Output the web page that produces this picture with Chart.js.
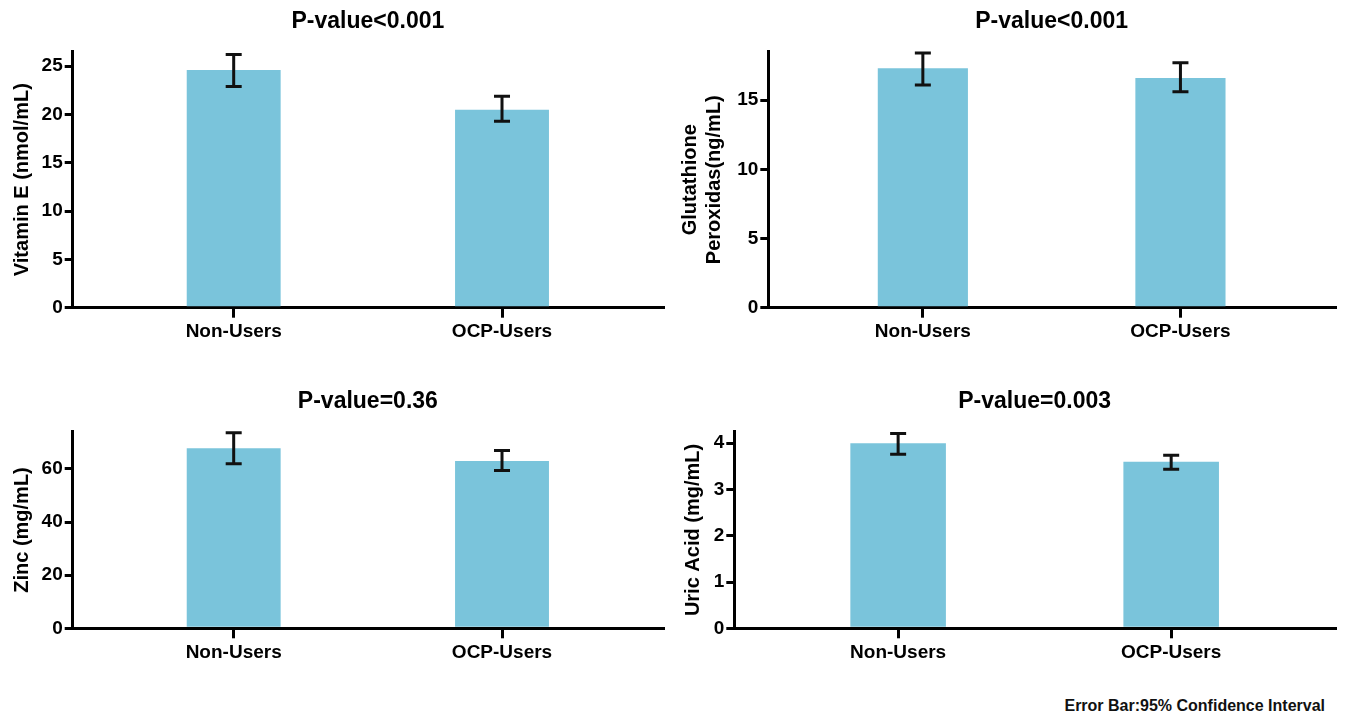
<!DOCTYPE html>
<html>
<head>
<meta charset="utf-8">
<script src="https://cdn.jsdelivr.net/npm/chart.js@4.4.1/dist/chart.umd.min.js"></script>
<style>
  html, body { margin: 0; padding: 0; background: #ffffff; }
  body { width: 1347px; height: 716px; position: relative; overflow: hidden; }
  canvas { position: absolute; }
  #note {
    position: absolute; right: 22px; top: 698px;
    font: bold 16px "Liberation Sans", Arial, sans-serif; line-height: 16px;
    color: #111; white-space: nowrap;
  }
</style>
</head>
<body>
<canvas id="c1" width="670" height="360" style="left:0px;top:0px;width:670px;height:360px"></canvas>
<canvas id="c2" width="677" height="360" style="left:670px;top:0px;width:677px;height:360px"></canvas>
<canvas id="c3" width="670" height="300" style="left:0px;top:380px;width:670px;height:300px"></canvas>
<canvas id="c4" width="677" height="300" style="left:670px;top:380px;width:677px;height:300px"></canvas>
<div id="note">Error Bar:95% Confidence Interval</div>
<script>
// ---------- data ----------
const categories = ['Non-Users', 'OCP-Users'];

const vitaminE      = [24.6, 20.5];
const vitaminELow   = [22.9, 19.3];
const vitaminEHigh  = [26.2, 21.9];
const vitaminETicks = [0, 5, 10, 15, 20, 25];

const gpx      = [17.3, 16.6];
const gpxLow   = [16.1, 15.6];
const gpxHigh  = [18.4, 17.7];
const gpxTicks = [0, 5, 10, 15];

const zinc      = [67.8, 63.0];
const zincLow   = [61.9, 59.4];
const zincHigh  = [73.6, 66.9];
const zincTicks = [0, 20, 40, 60];

const uric      = [4.0, 3.6];
const uricLow   = [3.76, 3.44];
const uricHigh  = [4.21, 3.74];
const uricTicks = [0, 1, 2, 3, 4];

const panelTitles = ['P-value<0.001', 'P-value<0.001', 'P-value=0.36', 'P-value=0.003'];
const yTitles = [
  'Vitamin E (nmol/mL)',
  ['Glutathione', 'Peroxidas(ng/mL)'],
  'Zinc (mg/mL)',
  'Uric Acid (mg/mL)'
];
const footNote = 'Error Bar:95% Confidence Interval';

// ---------- styling ----------
const FONT = '"Liberation Sans", Arial, Helvetica, sans-serif';
const BAR_COLOR = '#7AC4DB';
const INK = '#000000';

const errorBarPlugin = {
  id: 'errbars',
  afterDatasetsDraw(chart, args, opts) {
    const ctx = chart.ctx;
    const meta = chart.getDatasetMeta(0);
    const ys = chart.scales.y;
    ctx.save();
    ctx.strokeStyle = '#111111';
    ctx.lineWidth = 3;
    ctx.lineCap = 'butt';
    meta.data.forEach((bar, i) => {
      const x = bar.x;
      const yl = ys.getPixelForValue(opts.low[i]);
      const yh = ys.getPixelForValue(opts.high[i]);
      const cap = 8;
      ctx.beginPath();
      ctx.moveTo(x, yl); ctx.lineTo(x, yh);
      ctx.moveTo(x - cap, yl); ctx.lineTo(x + cap, yl);
      ctx.moveTo(x - cap, yh); ctx.lineTo(x + cap, yh);
      ctx.stroke();
    });
    ctx.restore();
  }
};

const panelTitlePlugin = {
  id: 'panelTitle',
  afterDraw(chart, args, opts) {
    const ctx = chart.ctx;
    const a = chart.chartArea;
    ctx.save();
    ctx.fillStyle = INK;
    ctx.font = 'bold 23px ' + FONT;
    ctx.textAlign = 'center';
    ctx.textBaseline = 'alphabetic';
    ctx.fillText(opts.text, (a.left + a.right) / 2, opts.baseline);
    ctx.restore();
  }
};

function makePanel(id, values, low, high, yTicks, yMax, yTitle, title, lay) {
  const tickFont = { family: FONT, size: 19, weight: 'bold' };
  return new Chart(document.getElementById(id), {
    type: 'bar',
    data: {
      datasets: [{
        data: values.map((v, i) => ({ x: i, y: v })),
        backgroundColor: BAR_COLOR,
        borderWidth: 0,
        barPercentage: 0.35,
        categoryPercentage: 1.0
      }]
    },
    options: {
      responsive: false,
      animation: false,
      devicePixelRatio: 1,
      layout: { padding: { left: lay.left, right: lay.right, top: lay.top, bottom: lay.bottom } },
      plugins: {
        legend: { display: false },
        tooltip: { enabled: false },
        title: { display: false },
        errbars: { low: low, high: high },
        panelTitle: { text: title, baseline: 28 }
      },
      scales: {
        x: {
          type: 'linear',
          min: -0.6,
          max: 1.6,
          offset: false,
          afterBuildTicks: s => { s.ticks = categories.map((c, i) => ({ value: i })); },
          afterFit: s => { s.height = 40; },
          border: { display: true, width: 3, color: INK },
          grid: { offset: false, drawOnChartArea: false, drawTicks: true, tickLength: 10, lineWidth: 3, color: INK },
          ticks: {
            color: INK, font: tickFont, padding: 3, maxRotation: 0, autoSkip: false,
            callback: v => categories[v]
          }
        },
        y: {
          type: 'linear',
          min: 0,
          max: yMax,
          afterBuildTicks: s => { s.ticks = yTicks.map(v => ({ value: v })); },
          afterFit: s => { s.width = lay.yWidth; },
          border: { display: true, width: 3, color: INK },
          grid: { drawOnChartArea: false, drawTicks: true, tickLength: 8, lineWidth: 3, color: INK },
          ticks: { color: INK, font: tickFont, padding: 2 },
          title: {
            display: true, text: yTitle, color: INK, padding: 0,
            font: { family: FONT, size: 20, weight: 'bold', lineHeight: 1.2 }
          }
        }
      }
    },
    plugins: [errorBarPlugin, panelTitlePlugin]
  });
}

makePanel('c1', vitaminE, vitaminELow, vitaminEHigh, vitaminETicks, 26.5, yTitles[0], panelTitles[0],
  { left: 10, right: 7, top: 51.7, bottom: 12.3, yWidth: 62.7 });
makePanel('c2', gpx, gpxLow, gpxHigh, gpxTicks, 18.5, yTitles[1], panelTitles[1],
  { left: 8, right: 12, top: 51.7, bottom: 12.3, yWidth: 90.3 });
makePanel('c3', zinc, zincLow, zincHigh, zincTicks, 74, yTitles[2], panelTitles[2],
  { left: 10, right: 7, top: 51.7, bottom: 11.7, yWidth: 62.7 });
makePanel('c4', uric, uricLow, uricHigh, uricTicks, 4.25, yTitles[3], panelTitles[3],
  { left: 11, right: 12, top: 51.7, bottom: 11.7, yWidth: 53.3 });

document.getElementById('note').textContent = footNote;
</script>
</body>
</html>
